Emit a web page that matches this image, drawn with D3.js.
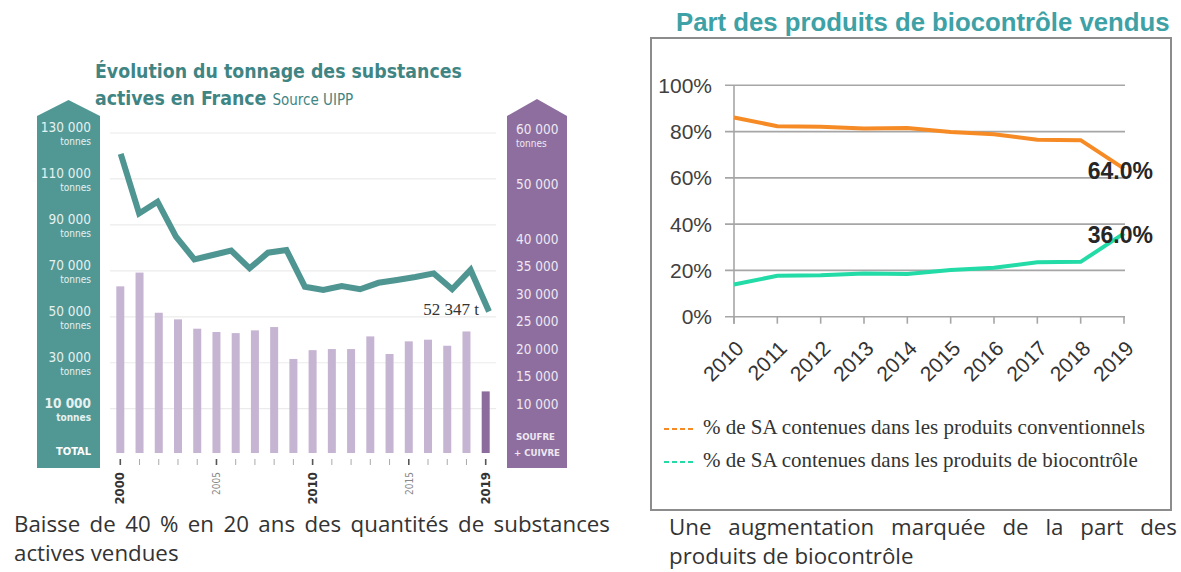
<!DOCTYPE html>
<html>
<head>
<meta charset="utf-8">
<script src="https://cdn.jsdelivr.net/npm/d3@7"></script>
<style>
  body { margin: 0; background: #fff; }
  svg { display: block; }
  .cond { font-family: "Liberation Sans Narrow", "DejaVu Sans Condensed", "Roboto", sans-serif; font-stretch: condensed; }
</style>
</head>
<body>
<script>
// left chart: total tonnage (line, left axis) and soufre + cuivre (bars, right axis)
const barYears = d3.range(2000, 2020);
const sulfurCopper = [31700, 34200, 26900, 25700, 24000, 23400, 23200, 23700, 24300, 18500,
  20100, 20300, 20300, 22600, 19400, 21700, 22000, 20900, 23500, 12600];
const lineYears = d3.range(1999, 2020);
const totalTonnage = [120900, 95000, 100100, 84900, 75000, 76900, 78800, 71100, 77900, 79100,
  63100, 61700, 63400, 62000, 64800, 66000, 67300, 68900, 62000, 70400, 52347];
const leftTicks = [130000, 110000, 90000, 70000, 50000, 30000, 10000];
const rightTicks = [60000, 50000, 40000, 35000, 30000, 25000, 20000, 15000, 10000];
const yearLabels = [2000, 2005, 2010, 2015, 2019];
const boldYears = [2000, 2010, 2019];

// right chart: share of products sold
const shareYears = d3.range(2010, 2020);
const conventional = [86.1, 82.3, 82.1, 81.3, 81.5, 79.8, 78.8, 76.5, 76.3, 64.0];
const biocontrol = [13.9, 17.7, 17.9, 18.7, 18.5, 20.2, 21.2, 23.5, 23.7, 36.0];
const shareTicks = [0, 20, 40, 60, 80, 100];
const seriesNames = [
  "% de SA contenues dans les produits conventionnels",
  "% de SA contenues dans les produits de biocontrôle"
];

const fr = d3.formatLocale({ decimal: ",", thousands: "\u00a0", grouping: [3], currency: ["", " €"] });
const fmt = fr.format(",d");

const svg = d3.select("body").append("svg").attr("width", 1181).attr("height", 572);

// stretch spaces so a line fills a given width
function justify(sel, width) {
  const node = sel.node();
  const n = (sel.text().match(/ /g) || []).length;
  const w = node.getComputedTextLength();
  if (n) sel.style("word-spacing", `${(width - w) / n}px`);
}
function fitSize(sel, width) {
  const w = sel.node().getComputedTextLength();
  const fs = parseFloat(sel.attr("font-size"));
  sel.attr("font-size", fs * width / w);
}

/* ---------------- left chart ---------------- */
const teal = "#519895";
const purple = "#8d6e9e";
const gridL = [110, 496];
const floorY = 453;

const yL = d3.scaleLinear().domain([10000, 130000]).range([408.7, 133]);
const yR = d3.scaleLinear().domain([10000, 60000]).range([405.7, 130.7]);
const xBar = d3.scalePoint().domain(barYears).range([120.3, 485.7]);
const xLine = d3.scalePoint().domain(lineYears).range([120.7, 489]);

const t1 = svg.append("text").attr("class", "cond").attr("x", 95).attr("y", 78)
  .attr("font-size", 22).attr("font-weight", "bold").attr("fill", "#3f8584")
  .text("Évolution du tonnage des substances");
fitSize(t1, 367);
const t2 = svg.append("text").attr("class", "cond").attr("x", 95).attr("y", 105)
  .attr("font-size", t1.attr("font-size")).attr("fill", "#3f8584");
t2.append("tspan").attr("font-weight", "bold").text("actives en France ");
t2.append("tspan").attr("font-size", 15).text("Source UIPP");

// side bands
svg.append("path").attr("fill", teal)
  .attr("d", "M37,116 L68.5,100 L100,116 L100,468 L37,468 Z");
svg.append("path").attr("fill", purple)
  .attr("d", "M507,116 L537,99 L567,116 L567,468 L507,468 Z");

svg.append("g").selectAll("line").data(leftTicks).join("line")
  .attr("x1", gridL[0]).attr("x2", gridL[1])
  .attr("y1", d => yL(d)).attr("y2", d => yL(d))
  .attr("stroke", "#ebebeb").attr("stroke-width", 1.2);

const lt = svg.append("g").attr("class", "cond").attr("text-anchor", "end").attr("fill", "#e6f1f0");
leftTicks.forEach(v => {
  const b = v === 10000 ? "bold" : "normal";
  lt.append("text").attr("x", 91).attr("y", yL(v) - 1).attr("font-size", 13.5)
    .attr("font-weight", b).text(fmt(v));
  lt.append("text").attr("x", 91).attr("y", yL(v) + 12).attr("font-size", 10)
    .attr("font-weight", b).text("tonnes");
});
lt.append("text").attr("x", 91).attr("y", 455).attr("font-size", 11)
  .attr("font-weight", "bold").attr("fill", "#fff").text("TOTAL");

const rt = svg.append("g").attr("class", "cond").attr("fill", "#efe8f3");
rightTicks.forEach(v => {
  rt.append("text").attr("x", 516).attr("y", yR(v) + 3).attr("font-size", 13.5).text(fmt(v));
});
rt.append("text").attr("x", 516).attr("y", yR(60000) + 16).attr("font-size", 10).text("tonnes");
const s1 = rt.append("text").attr("x", 516).attr("y", 440).attr("font-size", 11).attr("font-weight", "bold").text("SOUFRE");
const s2 = rt.append("text").attr("x", 514).attr("y", 456).attr("font-size", 11).attr("font-weight", "bold").text("+ CUIVRE");
fitSize(s2, 46);
s1.attr("font-size", s2.attr("font-size"));

svg.append("g").selectAll("rect").data(barYears).join("rect")
  .attr("x", d => xBar(d) - 4).attr("width", 8)
  .attr("y", (d, i) => yR(sulfurCopper[i]))
  .attr("height", (d, i) => floorY - yR(sulfurCopper[i]))
  .attr("fill", d => d === 2019 ? "#8c6b9d" : "#c6b5d2");

svg.append("g").selectAll("line").data(barYears).join("line")
  .attr("x1", d => xBar(d)).attr("x2", d => xBar(d))
  .attr("y1", 459).attr("y2", 465)
  .attr("stroke", d => yearLabels.includes(d) ? "#555" : "#aaa")
  .attr("stroke-width", d => yearLabels.includes(d) ? 1.6 : 1);

svg.append("g").attr("class", "cond").selectAll("text").data(yearLabels).join("text")
  .attr("transform", d => `translate(${xBar(d) + 4},472) rotate(-90)`)
  .attr("text-anchor", "end")
  .attr("font-size", d => boldYears.includes(d) ? 13 : 10)
  .attr("font-weight", d => boldYears.includes(d) ? "bold" : "normal")
  .attr("fill", d => boldYears.includes(d) ? "#333" : "#888")
  .text(d => d);

const line = d3.line().x((d, i) => xLine(lineYears[i])).y(d => yL(d));
svg.append("path").datum(totalTonnage).attr("d", line)
  .attr("fill", "none").attr("stroke", "#4f9592").attr("stroke-width", 6)
  .attr("stroke-linejoin", "miter");

svg.append("text").attr("x", 479).attr("y", 315).attr("text-anchor", "end")
  .attr("font-family", "Liberation Serif, serif").attr("font-size", 17).attr("fill", "#333")
  .text(fmt(totalTonnage[totalTonnage.length - 1]) + " t");

const c1 = svg.append("text").attr("x", 14).attr("y", 532).attr("font-family", "Open Sans, sans-serif")
  .attr("font-size", 19).attr("fill", "#333").text("Baisse de 40 % en 20 ans des quantités de substances");
fitSize(c1, 596);
const capSize = parseFloat(c1.attr("font-size")) * 0.94;
c1.attr("font-size", capSize);
justify(c1, 596);
svg.append("text").attr("x", 14).attr("y", 561).attr("font-family", "Open Sans, sans-serif")
  .attr("font-size", capSize).attr("fill", "#333").text("actives vendues");

/* ---------------- right chart ---------------- */
const rt1 = svg.append("text").attr("x", 676).attr("y", 31)
  .attr("font-family", "Liberation Sans, Arial, sans-serif").attr("font-weight", "bold")
  .attr("font-size", 22).attr("fill", "#3ea1a6").text("Part des produits de biocontrôle vendus");
fitSize(rt1, 494);

svg.append("rect").attr("x", 651).attr("y", 38).attr("width", 520).attr("height", 472)
  .attr("fill", "none").attr("stroke", "#8c8c8c").attr("stroke-width", 2);

const xS = d3.scalePoint().domain(shareYears).range([734, 1124]);
const yS = d3.scaleLinear().domain([0, 100]).range([316.7, 85.3]);

svg.append("g").selectAll("line").data(shareTicks).join("line")
  .attr("x1", 725).attr("x2", 1125)
  .attr("y1", d => yS(d)).attr("y2", d => yS(d))
  .attr("stroke", "#a6a6a6").attr("stroke-width", 1.6);
svg.append("line").attr("x1", 734).attr("x2", 734).attr("y1", yS(100)).attr("y2", yS(0) + 7)
  .attr("stroke", "#a6a6a6").attr("stroke-width", 1.6);
svg.append("g").selectAll("line").data(shareYears).join("line")
  .attr("x1", d => xS(d)).attr("x2", d => xS(d))
  .attr("y1", yS(0)).attr("y2", yS(0) + 7)
  .attr("stroke", "#a6a6a6").attr("stroke-width", 1.6);

svg.append("g").selectAll("text").data(shareTicks).join("text")
  .attr("x", 712).attr("y", d => yS(d) + 7.5).attr("text-anchor", "end")
  .attr("font-family", "Liberation Sans, Arial, sans-serif").attr("font-size", 21).attr("fill", "#404040")
  .text(d => d + "%");

svg.append("g").selectAll("text").data(shareYears).join("text")
  .attr("transform", d => `translate(${xS(d) + 11},${yS(0) + 33}) rotate(-45)`)
  .attr("text-anchor", "end")
  .attr("font-family", "Liberation Sans, Arial, sans-serif").attr("font-size", 21).attr("fill", "#333")
  .text(d => d);

const shareLine = d3.line().x((d, i) => xS(shareYears[i])).y(d => yS(d));
const colors = ["#f68b26", "#22dba6"];
[conventional, biocontrol].forEach((s, k) => {
  svg.append("path").datum(s).attr("d", shareLine)
    .attr("fill", "none").attr("stroke", colors[k]).attr("stroke-width", 4);
  svg.append("text").attr("x", 1153).attr("y", yS(s[s.length - 1]) + 10).attr("text-anchor", "end")
    .attr("font-family", "Liberation Sans, Arial, sans-serif").attr("font-weight", "bold")
    .attr("font-size", 23).attr("fill", "#262626")
    .text(s[s.length - 1].toFixed(1) + "%");
});

seriesNames.forEach((name, k) => {
  const y = 429 + k * 33;
  svg.append("line").attr("x1", 664).attr("x2", 695).attr("y1", y).attr("y2", y)
    .attr("stroke", colors[k]).attr("stroke-width", 2).attr("stroke-dasharray", "5,3");
  const t = svg.append("text").attr("x", 703).attr("y", y + 5)
    .attr("font-family", "Liberation Serif, serif").attr("font-size", 17).attr("fill", "#333")
    .text(name);
  fitSize(t, k === 0 ? 442 : 435);
});

const c2 = svg.append("text").attr("x", 669).attr("y", 535).attr("font-family", "Open Sans, sans-serif")
  .attr("font-size", capSize).attr("fill", "#333").text("Une augmentation marquée de la part des");
justify(c2, 508);
svg.append("text").attr("x", 669).attr("y", 564).attr("font-family", "Open Sans, sans-serif")
  .attr("font-size", capSize).attr("fill", "#333").text("produits de biocontrôle");
</script>
</body>
</html>
